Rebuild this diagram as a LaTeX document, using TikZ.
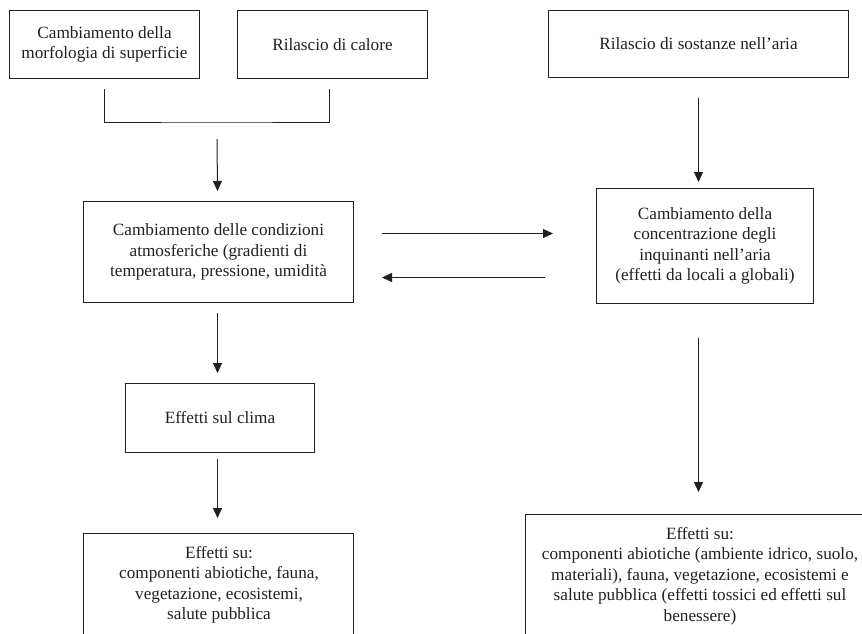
\documentclass[tikz,border=0pt]{standalone}
\usepackage{fontspec}
\setmainfont{Liberation Serif}
\usetikzlibrary{arrows.meta}
\definecolor{ink}{RGB}{35,31,32}
\begin{document}
\begin{tikzpicture}[x=1pt,y=-1pt,
  every node/.style={text=ink, font=\fontsize{17.2}{20.5}\selectfont},
  box/.style={draw=ink, line width=1pt, anchor=north west, align=center, inner sep=0pt},
  txt/.style={align=center, inner sep=0pt, anchor=north},
  link/.style={draw=ink, line width=1pt},
  arr/.style={link, -{Triangle[length=10pt,width=9pt]}}]
\useasboundingbox (0,0) rectangle (862,634);
\clip (0,0) rectangle (862,634);

% upper sources
\node[box, minimum width=190, minimum height=68] (a) at (9,10)
  {Cambiamento della\\morfologia di superficie};
\node[box, minimum width=190, minimum height=68] (b) at (237,10)
  {Rilascio di calore};
\node[box, minimum width=300, minimum height=67] (c) at (548,10)
  {Rilascio di sostanze nell’aria};

% middle row
\node[box, minimum width=270, minimum height=101] (e) at (83,201)
  {Cambiamento delle condizioni\\atmosferiche (gradienti di\\temperatura, pressione, umidità};
\node[box, minimum width=217, minimum height=115] (d) at (596,188)
  {Cambiamento della\\concentrazione degli\\inquinanti nell’aria\\(effetti da locali a globali)};

% climate
\node[box, minimum width=189, minimum height=69] (f) at (125,383)
  {Effetti sul clima};

% effect boxes running off the bottom edge
\node[box, minimum width=270, minimum height=160] (g) at (83,533) {};
\node[txt] (gtext) at (219,546)
  {Effetti su:\\componenti abiotiche, fauna,\\vegetazione, ecosistemi,\\salute pubblica};
\node[box, minimum width=400, minimum height=180] (h) at (525,514) {};
\node[txt] (htext) at (700,527)
  {Effetti su:\\componenti abiotiche (ambiente idrico, suolo,\\materiali), fauna, vegetazione, ecosistemi e\\salute pubblica (effetti tossici ed effetti sul\\benessere)};

% bracket joining the two left sources
\coordinate (join) at (217,122);
\draw[link] ([yshift=-10pt]a.south) |- (join) -| ([xshift=-3pt,yshift=-10pt]b.south);
\draw[arr] ([yshift=-17pt]join) -- ([xshift=-1pt,yshift=10pt]e.north);

% left column
\draw[arr] ([xshift=-1pt,yshift=-10pt]e.south) -- ([xshift=-1pt,yshift=10pt]e.south |- f.north);
\draw[arr] ([xshift=-1pt,yshift=-6pt]e.south |- f.south) -- ([xshift=-1pt,yshift=15pt]e.south |- g.north);

% right column
\draw[arr] ([yshift=-20pt]c.south) -- ([yshift=6pt]c.south |- d.north);
\draw[arr] ([yshift=-34pt]c.south |- d.south) -- ([yshift=22pt]c.south |- h.north);

% exchange between the two middle boxes
\draw[arr] ([xshift=28pt,yshift=18.5pt]e.east) -- ([xshift=-43pt,yshift=12.5pt]d.west);
\draw[arr] ([xshift=-51pt,yshift=-31.5pt]d.west) -- ([xshift=28pt,yshift=-25.5pt]e.east);
\end{tikzpicture}
\end{document}
